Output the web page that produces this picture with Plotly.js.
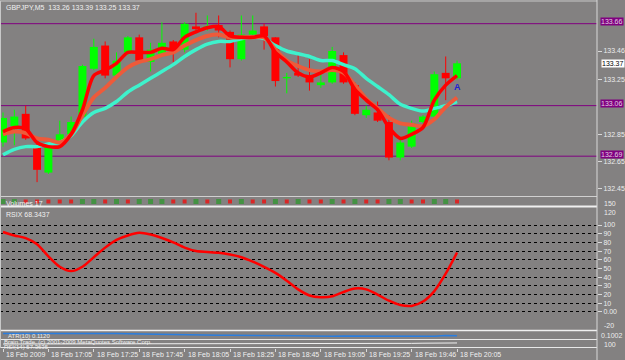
<!DOCTYPE html>
<html>
<head>
<meta charset="utf-8">
<script src="https://cdn.plot.ly/plotly-3.0.1.min.js"></script>
<style>html,body{margin:0;padding:0;background:#838181;}#chart{width:625px;height:360px;}</style>
</head>
<body>
<div id="chart"></div>
<script>
// ---- DATA (GBPJPY, M5, 18 Feb 2009, 16:45 .. 20:05) ----
const open  = [132.79,132.91,133.00,132.75,132.57,132.79,132.85,132.98,133.33,133.50,133.28,133.45,133.56,133.38,133.44,133.53,133.47,133.64,133.63,133.65,133.60,133.40,133.58,133.64,133.56,133.26,133.30,133.28,133.21,133.23,133.43,133.21,132.99,133.01,132.94,132.68,132.76,132.94,132.98,133.30,133.26];
const high  = [133.01,133.03,133.06,132.79,132.77,132.95,132.98,133.36,133.55,133.53,133.45,133.57,133.58,133.52,133.67,133.54,133.67,133.74,133.72,133.72,133.61,133.72,133.72,133.66,133.56,133.30,133.43,133.40,133.30,133.49,133.45,133.23,133.06,133.09,132.99,132.81,132.95,132.99,133.31,133.42,133.39];
const low   = [132.76,132.77,132.81,132.50,132.56,132.79,132.84,132.97,133.32,133.26,133.26,133.43,133.38,133.31,133.42,133.38,133.45,133.61,133.61,133.56,133.34,133.39,133.56,133.47,133.20,133.15,133.27,133.17,133.19,133.22,133.22,132.99,132.97,132.94,132.66,132.66,132.75,132.93,132.97,133.10,133.25];
const close = [132.97,132.98,132.82,132.59,132.76,132.85,132.94,133.35,133.49,133.28,133.39,133.56,133.39,133.47,133.52,133.46,133.66,133.62,133.64,133.61,133.40,133.58,133.61,133.57,133.24,133.27,133.28,133.23,133.23,133.46,133.23,133.00,133.03,132.95,132.68,132.79,132.93,132.98,133.29,133.26,133.37];

const maFast = [132.87,132.90,132.89,132.79,132.76,132.76,132.85,133.03,133.28,133.32,133.37,133.45,133.45,133.45,133.48,133.47,133.56,133.60,133.63,133.64,133.57,133.56,133.56,133.57,133.45,133.38,133.30,133.27,133.30,133.34,133.31,133.18,133.10,133.03,132.90,132.82,132.85,132.90,133.10,133.21,133.28];
const maMid  = [132.85,132.87,132.86,132.82,132.81,132.79,132.85,132.99,133.12,133.19,133.27,133.34,133.38,133.40,133.43,133.45,133.50,133.54,133.57,133.58,133.56,133.56,133.56,133.56,133.47,133.39,133.35,133.32,133.31,133.32,133.30,133.21,133.11,133.04,132.97,132.93,132.92,132.91,132.96,133.05,133.12];
const maSlow = [132.70,132.74,132.76,132.76,132.78,132.79,132.84,132.94,133.01,133.04,133.09,133.16,133.21,133.26,133.31,133.36,133.42,133.47,133.51,133.53,133.53,133.55,133.56,133.55,133.50,133.46,133.44,133.42,133.39,133.39,133.36,133.33,133.26,133.20,133.14,133.07,133.04,133.02,133.04,133.06,133.09];

const rsix = [92,88,85,78,64,52,47,52,63,74,83,88,91,89,85,80,74,70,69,68,66,63,58,52,45,36,26,19,17,18,23,27,26,20,13,8,7,12,24,44,68.3437];
const volDir = ['up','up','down','down','down','down','down','up','up','down','up','down','up','up','up','down','down','up','down','up','down','up','down','down','up','down','up','down','down','up','down','up','down','down','up','up','down','down','up','up','down'];
const atr = [0.121,0.121,0.122,0.123,0.123,0.122,0.121,0.122,0.123,0.122,0.121,0.120,0.119,0.118,0.118,0.117,0.117,0.116,0.115,0.114,0.114,0.114,0.113,0.112,0.113,0.113,0.112,0.111,0.110,0.110,0.111,0.111,0.110,0.109,0.110,0.111,0.110,0.109,0.110,0.113,0.112];
const osc = [50,50,50,50,50,50,50,50,50,50,50,50,50,50,50,50,50,50,50,50,50,50,50,50,50,50,50,50,50,50,50,50,50,50,52,55,58,60,61,62,63];

const levels = [133.66, 133.06, 132.69];
const priceTicks = [133.46, 133.25, 132.85, 132.65, 132.45];
const rsiTicks = [100,90,80,70,60,50,40,30,20,10,0];
const rsiTickText = ['100','90','80','70','60','50','40','30','20','10','0.00'];
const xLabelIdx = [0,4,8,12,16,20,24,28,32,36,40];
const xLabels = ['18 Feb 2009','18 Feb 17:05','18 Feb 17:25','18 Feb 17:45','18 Feb 18:05','18 Feb 18:25','18 Feb 18:45','18 Feb 19:05','18 Feb 19:25','18 Feb 19:46','18 Feb 20:05'];
const symbol = 'GBPJPY,M5';

// ---- BUILD ----
const W = 625, H = 360, R = 28, PW = W - R;
const px = v => v / PW;
const py = v => 1 - v / H;
const idx = open.map((_, i) => i);
const GREEN = '#00ff00', RED = '#ff0000';
const isUp = idx.map(i => close[i] >= open[i]);

const bodyBase = idx.map(i => Math.min(open[i], close[i]));
const bodyH = idx.map(i => Math.max(Math.abs(close[i] - open[i]), 0.006));

function wick(up) {
  const x = [], y = [];
  idx.forEach(i => { if (isUp[i] === up) { x.push(i, i, null); y.push(low[i], high[i], null); } });
  return {type:'scatter', mode:'lines', x, y, xaxis:'x', yaxis:'y',
    line:{color: up ? GREEN : RED, width:1}, hoverinfo:'skip', showlegend:false};
}

const traces = [
  wick(true), wick(false),
  {type:'bar', x: idx, y: bodyH, base: bodyBase, width: 0.7, xaxis:'x', yaxis:'y',
   marker:{color: idx.map(i => isUp[i] ? GREEN : RED), line:{width:0}}, showlegend:false, hoverinfo:'skip'},
  {type:'scatter', mode:'lines', x: idx, y: maSlow, xaxis:'x', yaxis:'y', line:{color:'#3ef2cc', width:3.5, shape:'spline', smoothing:0.8}, showlegend:false},
  {type:'scatter', mode:'lines', x: idx, y: maMid, xaxis:'x', yaxis:'y', line:{color:'#ee5a3a', width:4, shape:'spline', smoothing:0.8}, showlegend:false},
  {type:'scatter', mode:'lines', x: idx, y: maFast, xaxis:'x', yaxis:'y', line:{color:'#ff0000', width:3.5, shape:'spline', smoothing:0.8}, showlegend:false},
  {type:'scatter', mode:'markers', x: idx, y: idx.map(() => 0.5), xaxis:'x', yaxis:'y2',
   marker:{symbol:'square', color: volDir.map(d => d === 'up' ? '#2a9a2a' : '#ff0000'), size: volDir.map(d => d === 'up' ? 5 : 4), line:{width:0}}, showlegend:false},
  {type:'scatter', mode:'lines', x: idx, y: rsix, xaxis:'x', yaxis:'y3', line:{color:'#ff0000', width:2.5, shape:'spline', smoothing:0.8}, showlegend:false},
  {type:'scatter', mode:'lines', x: idx, y: atr, xaxis:'x', yaxis:'y4', line:{color:'#2a7ee0', width:1.5}, showlegend:false},
  {type:'scatter', mode:'lines', x: idx, y: osc, xaxis:'x', yaxis:'y5', line:{color:'#f0f0f0', width:1}, showlegend:false}
];

const tickFont = {family:'Liberation Sans, Arial, sans-serif', size:7, color:'#ececec'};
const smallFont = {family:'Liberation Sans, Arial, sans-serif', size:7, color:'#f0f0f0'};
const tinyFont = {family:'Liberation Sans, Arial, sans-serif', size:6, color:'#f0f0f0'};

const annotations = [];
function ann(x, y, text, font, extra) {
  annotations.push(Object.assign({xref:'paper', yref:'paper', x:px(x), y:py(y), text, font, showarrow:false, xanchor:'left', yanchor:'middle', borderpad:0}, extra || {}));
}
const last = open.length - 1;
ann(5, 7, symbol + '\u00a0\u00a0' + [open[last], high[last], low[last], close[last]].map(v => v.toFixed(2)).join(' '), smallFont);
ann(5, 214, 'RSIX ' + rsix[last].toFixed(4), smallFont);
ann(5, 203, 'Volumes 17', smallFont);
ann(7, 336, 'ATR(10) ' + atr[last].toFixed(4), tinyFont);
ann(3, 342, 'Brain Trade, (c) 2001-2009 MetaQuotes Software Corp.', tinyFont);
ann(3, 346.5, 'RSI(14) 57.3635', tinyFont);
// right axis extra labels
ann(603, 203, '150', tickFont);
ann(603, 212, '120', tickFont);
ann(603, 325, '-20', tickFont);
ann(600, 335, '0.1002', tickFont);
ann(603, 344, '100', tickFont);
// level boxes
levels.forEach(v => annotations.push({xref:'paper', yref:'y', x:px(600), y:v, text:v.toFixed(2), showarrow:false, yshift:2,
  xanchor:'left', yanchor:'middle', bgcolor:'#800080', borderpad:0, font:{family:'Liberation Sans, Arial, sans-serif', size:7, color:'#e0d0e0'}}));
annotations.push({xref:'paper', yref:'y', x:px(601), y:close[last], text:close[last].toFixed(2), showarrow:false,
  xanchor:'left', yanchor:'middle', bgcolor:'#ffffff', borderpad:0, font:{family:'Liberation Sans, Arial, sans-serif', size:7, color:'#000000'}});
// x labels
xLabelIdx.forEach((i, k) => annotations.push({xref:'x', yref:'paper', x:i, y:py(354), text:xLabels[k], showarrow:false,
  xanchor:'left', yanchor:'middle', xshift:1, font:smallFont}));
// signal arrow
annotations.push({xref:'x', yref:'y', x:last, y:133.20, text:'<b>A</b>', showarrow:false, xanchor:'center', yanchor:'middle',
  font:{family:'Liberation Sans, Arial, sans-serif', size:9, color:'#2020d0'}});

const shapes = [];
function hline(y, color, w) { shapes.push({type:'line', xref:'paper', yref:'paper', x0:0, x1:1, y0:py(y), y1:py(y), line:{color, width:w}, layer:'above'}); }
levels.forEach(v => shapes.push({type:'line', xref:'paper', yref:'y', x0:0, x1:1, y0:v, y1:v, line:{color:'#800080', width:1}, layer:'below'}));
hline(1, '#c8c8c8', 1);
hline(196.5, '#d0d0d0', 1);
hline(206.5, '#f0f0f0', 2);
hline(330.5, '#f0f0f0', 1.5);
hline(339.5, '#e8e8e8', 1);
hline(347.5, '#e8e8e8', 1);
shapes.push({type:'line', xref:'paper', yref:'paper', x0:1, x1:1, y0:0, y1:1, line:{color:'#d8d8d8', width:1}, layer:'above'});
shapes.push({type:'line', xref:'paper', yref:'paper', x0:px(0.5), x1:px(0.5), y0:py(348), y1:py(1), line:{color:'#c8c8c8', width:1}, layer:'above'});

const yBase = {anchor:'x', side:'right', showgrid:false, zeroline:false, showline:false, fixedrange:true};
const layout = {
  width: W, height: H,
  margin:{l:0, r:R, t:0, b:0, pad:0},
  paper_bgcolor:'#838181', plot_bgcolor:'#838181',
  showlegend:false, hovermode:false, barmode:'overlay',
  xaxis:{domain:[0,1], range:[-0.264, 52.33], anchor:'y5', showgrid:false, zeroline:false, showline:false,
    tickvals:xLabelIdx, ticks:'outside', ticklen:3, tickcolor:'#d8d8d8', showticklabels:false, fixedrange:true},
  yaxis:Object.assign({}, yBase, {domain:[py(196), py(2)], range:[132.3985, 133.8187], tickvals:priceTicks,
    ticktext:priceTicks.map(v => v.toFixed(2)), ticks:'outside', ticklen:4, tickcolor:'#d8d8d8', tickfont:tickFont}),
  yaxis2:Object.assign({}, yBase, {domain:[py(206), py(197)], range:[0,1], showticklabels:false, ticks:''}),
  yaxis3:Object.assign({}, yBase, {domain:[py(330), py(207)], range:[-20.7, 120.7], tickvals:rsiTicks, ticktext:rsiTickText,
    ticks:'outside', ticklen:4, tickcolor:'#d8d8d8', tickfont:tickFont, showgrid:true, gridcolor:'#000000', gridwidth:1, griddash:'3px,3px'}),
  yaxis4:Object.assign({}, yBase, {domain:[py(339), py(331)], range:[0.100, 0.130], showticklabels:false, ticks:''}),
  yaxis5:Object.assign({}, yBase, {domain:[py(348), py(340)], range:[0, 100], showticklabels:false, ticks:''}),
  annotations, shapes
};

Plotly.newPlot('chart', traces, layout, {staticPlot:true, displayModeBar:false});
</script>
</body>
</html>
